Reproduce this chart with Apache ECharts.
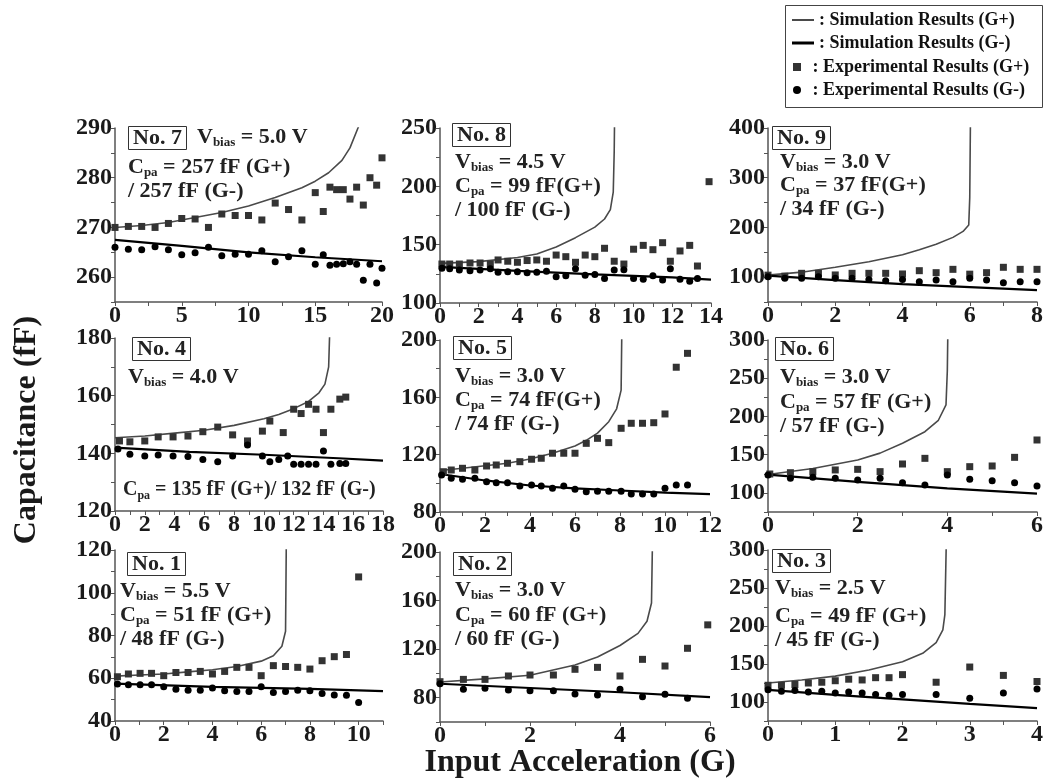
<!DOCTYPE html>
<html>
<head>
<meta charset="utf-8">
<script src="https://cdn.jsdelivr.net/npm/echarts@6/dist/echarts.min.js"></script>
<style>
  html, body { margin: 0; padding: 0; background: #fff; }
  #chart { width: 1047px; height: 784px; }
</style>
</head>
<body>
<div id="chart"></div>
<script>
// ---- data: [input acceleration (G), capacitance (fF)] ----
// No. 7
var simPlus7 = [[0,270],[2,270.4],[4,271],[6,272],[8,273],[10,274.3],[12,276],[14,278],[15,279.3],[16,281],[17,283.5],[17.6,286],[18.2,290],[18.5,292]]
var simMinus7 = [[0,267.5],[5,266.3],[10,265],[15,264],[20,263.2]]
var expPlus7 = [[0,270],[1,270.2],[2,270.2],[3,270],[4,270.8],[5,271.8],[6,271.7],[7,270],[8,272.7],[9,272.4],[10,272.4],[11,271.5],[12,274.9],[13,273.6],[14,271.5],[15,277],[15.6,273.2],[16.1,278.1],[16.6,277.6],[17.1,277.6],[17.6,275.7],[18.1,278.1],[18.6,274.5],[19.1,280],[19.6,278.5],[20,284]]
var expMinus7 = [[0,266],[1,265.6],[2,265.5],[3,266.1],[4,265.5],[5,264.5],[6,264.9],[7,266],[8,264.3],[9,264.6],[10,264.6],[11,265.3],[12,263.1],[13,264.1],[14,265.3],[15,262.6],[15.6,264.5],[16.1,262.4],[16.6,262.6],[17.1,262.7],[17.6,263.1],[18.1,262.6],[18.6,259.4],[19.1,262.6],[19.6,258.8],[20,261.8]]
// No. 8
var simPlus8 = [[0,134],[2,135.5],[4,139],[5,142],[6,148],[7,156],[8,165],[8.5,172],[8.8,180],[8.95,195],[9,230],[9.02,260]]
var simMinus8 = [[0,131],[4,127.5],[8,124.5],[12,122],[14,120]]
var expPlus8 = [[0.1,133.4],[0.5,133.4],[1,133.4],[1.55,134.3],[2.07,134.3],[2.6,133.4],[3,136.9],[3.5,135.8],[4,134.9],[4.5,136.4],[5,136.9],[5.5,135.8],[6,141.1],[6.5,139.7],[7,134.9],[7.5,141.1],[8,139.7],[8.5,146.9],[9,135.8],[9.5,133.4],[10,146.1],[10.5,149.4],[11,145.7],[11.5,151.7],[11.9,135.8],[12.4,144.6],[12.9,149.4],[13.3,131.7],[13.9,204]]
var expMinus8 = [[0.1,129.7],[0.5,129.4],[1,128.3],[1.55,127.7],[2.07,128.3],[2.6,129.4],[3,126.3],[3.5,126.8],[4,126.8],[4.5,126],[5,126.3],[5.5,127.3],[6,122.6],[6.5,123.3],[7,129.4],[7.5,123.8],[8,124.4],[8.5,121.1],[9,128.3],[9.5,128.5],[10,121.1],[10.5,120.3],[11,123.3],[11.5,119.7],[11.9,129.4],[12.4,120.3],[12.9,118.6],[13.3,121]]
// No. 9
var simPlus9 = [[0,104],[1,110],[2,120],[3,131],[4,145],[4.5,155],[5,166],[5.5,180],[5.8,192],[5.97,205],[6,260],[6.02,410]]
var simMinus9 = [[0,103],[2,94],[4,86],[6,80],[8,74]]
var expPlus9 = [[0,104],[0.5,102],[1,107.7],[1.5,107.7],[2,104.4],[2.5,107.7],[3,107.7],[3.5,107.7],[4,106.4],[4.5,113],[5,109],[5.5,115.7],[6,106],[6.5,109],[7,119.8],[7.5,115.7],[8,115.7]]
var expMinus9 = [[0,101],[0.5,97.6],[1,97.6],[1.5,101],[2,97.6],[2.5,97.6],[3,95.5],[3.5,92.9],[4,95.5],[4.5,90.8],[5,94.2],[5.5,90.8],[6,97.6],[6.5,94.2],[7,88.8],[7.5,90.8],[8,90.8]]
// No. 4
var simPlus4 = [[0,145.4],[2,146],[4,147],[6,148],[8,149.7],[10,152],[11,153.5],[12,155.5],[13,158],[13.7,161],[14.1,164],[14.35,170],[14.42,182]]
var simMinus4 = [[0,142],[5,140.5],[10,139.5],[15,138.3],[18,137.5]]
var expPlus4 = [[0.3,144.3],[1,144],[2,144.3],[2.9,145.7],[3.9,145.7],[4.9,146],[5.9,147.5],[6.9,149.1],[7.9,146.4],[8.9,144.3],[9.9,147.7],[10.4,151.2],[11.3,147.2],[12,155.3],[12.5,153.8],[13,157],[13.5,155.3],[14,147.2],[14.5,155.3],[15.1,158.8],[15.5,159.5]]
var expMinus4 = [[0.2,141.5],[1,139.7],[2,139.1],[2.9,139.4],[3.9,139.1],[4.9,138.9],[5.9,137.9],[6.9,137.1],[7.9,139.1],[8.9,142.9],[9.9,139.1],[10.4,137.1],[11,137.9],[11.6,139.1],[12,136.2],[12.5,136.2],[13,136.2],[13.5,136.2],[14,140.8],[14.5,136.2],[15.1,136.5],[15.5,136.5]]
// No. 5
var simPlus5 = [[0,109],[1,110.5],[2,112.3],[3,114],[4,117],[5,121],[6,126],[6.5,130],[7,135],[7.5,143],[7.85,152],[8.05,165],[8.08,205]]
var simMinus5 = [[0,106.5],[2,102],[4,98.5],[6,96.5],[8,95],[10,93.5],[12,92.5]]
var expPlus5 = [[0.15,108.1],[0.5,109.3],[1,110.5],[1.55,109.3],[2.07,112.1],[2.5,112.8],[3,114],[3.55,115.1],[4.07,116.8],[4.5,117.5],[5,121],[5.5,121],[6,121],[6.5,127.9],[7,131.4],[7.5,128.4],[8.05,138.4],[8.5,141.9],[9,141.9],[9.5,142.3],[10,148.4],[10.5,181],[11,190.7]]
var expMinus5 = [[0.07,105.8],[0.5,103.5],[1,102.8],[1.55,103.5],[2.07,101.1],[2.5,100.4],[3,100.4],[3.55,98.1],[4.07,98.8],[4.5,98.1],[5,96.5],[5.5,98.1],[6,95.8],[6.5,94.2],[7,94.4],[7.5,94.4],[8.05,94.4],[8.5,92.6],[9,92.6],[9.5,92.6],[10,96.5],[10.5,98.8],[11,98.8]]
// No. 6
var simPlus6 = [[0,124],[1,132],[2,143],[2.5,152],[3,165],[3.5,180],[3.8,195],[3.97,215],[4,260],[4.01,305]]
var simMinus6 = [[0,124],[2,114.5],[4,106],[6,99]]
var expPlus6 = [[0.04,124.7],[0.5,126.4],[1,127.8],[1.5,130],[2,130.8],[2.5,127.8],[3,137.8],[3.5,145.2],[4,127.8],[4.5,134.3],[5,135.2],[5.5,146.5],[6,169.2]]
var expMinus6 = [[0,123.4],[0.5,119.1],[1,120.4],[1.5,119.1],[2,116.9],[2.5,119.1],[3,113.4],[3.5,110.3],[4,123.4],[4.5,117.8],[5,116],[5.5,113.4],[6,109]]
// No. 1
var simPlus1 = [[0,61],[1,61.5],[2,62],[3,63],[4,64],[5,65.5],[6,68],[6.5,70.5],[6.85,75],[7,82],[7.03,122]]
var simMinus1 = [[0,57.5],[4,56],[8,55],[11,54]]
var expPlus1 = [[0.1,60.7],[0.55,62],[1.03,62.3],[1.5,62.3],[2,61.2],[2.5,62.7],[3,62.7],[3.5,63.2],[4,62],[4.5,63.2],[5,65.1],[5.5,65.1],[6,61.2],[6.5,65.9],[7,65.5],[7.5,65.1],[8,64.3],[8.5,68.2],[9,70.1],[9.5,71.1],[10,107.4]]
var expMinus1 = [[0.1,57.3],[0.55,57],[1.03,57],[1.5,57],[2,56],[2.5,54.9],[3,54.4],[3.5,54.4],[4,55.4],[4.5,54.1],[5,53.8],[5.5,53.8],[6,56],[6.5,53.3],[7,53.8],[7.5,54.4],[8,54.1],[8.5,52.9],[9,52.2],[9.5,52],[10,48.6]]
// No. 2
var simPlus2 = [[0,93],[1,95.5],[2,98.5],[3,107],[3.5,113.5],[4,123],[4.4,133],[4.6,143],[4.7,158],[4.72,205]]
var simMinus2 = [[0,91.5],[2,88],[4,84.5],[6,80.5]]
var expPlus2 = [[0,93.2],[0.52,95.1],[1,95.1],[1.52,97.9],[2,98.7],[2.52,98.7],[3,103.4],[3.5,105],[4,97.9],[4.5,111.6],[5,106.1],[5.5,120.7],[5.95,140]]
var expMinus2 = [[0,91.5],[0.52,86.9],[1,87.7],[1.52,86.4],[2,85.8],[2.52,85.8],[3,83.1],[3.5,82.2],[4,86.9],[4.5,80.8],[5,82.8],[5.5,79.5]]
// No. 3
var simPlus3 = [[0,125],[0.5,129],[1,134],[1.5,142],[2,153],[2.3,164],[2.5,178],[2.6,195],[2.63,215],[2.65,305]]
var simMinus3 = [[0,116],[1,109.5],[2,103.5],[3,97.5],[4,92]]
var expPlus3 = [[0,122],[0.2,122],[0.4,123],[0.6,125],[0.8,126],[1,128],[1.2,130],[1.4,129],[1.6,132],[1.8,132],[2,136],[2.5,126],[3,146],[3.5,135],[4,127]]
var expMinus3 = [[0,116],[0.2,114],[0.4,115],[0.6,113],[0.8,114],[1,112],[1.2,113],[1.4,112],[1.6,110],[1.8,109],[2,110],[2.5,110],[3,105],[3.5,112],[4,117]]

var FONT = '"Liberation Serif", "Times New Roman", serif'
var NAMES = ['Simulation Results (G+)', 'Simulation Results (G-)', 'Experimental Results (G+)', 'Experimental Results (G-)']
var SIM_PLUS_COLOR = '#4a4a4a'
var SIM_MINUS_COLOR = '#000'

// axis: [min, max, tick interval, label step]
var panels = [
  { no: 7, grid: [115, 128, 267, 174], x: [0, 20, 2.5, 5], y: [255, 290, 5, 10], data: [simPlus7, simMinus7, expPlus7, expMinus7],
    vb: '5.0', cpa: ['257 fF (G+)', '/ 257 fF (G-)'], boxAt: [128, 127], vbAt: [197, 125], cpAt: [128, 155] },
  { no: 8, grid: [440, 128, 271, 175], x: [0, 14, 1, 2], y: [100, 250, 25, 50], data: [simPlus8, simMinus8, expPlus8, expMinus8],
    vb: '4.5', cpa: ['99 fF(G+)', '/ 100 fF (G-)'], boxAt: [452, 124], vbAt: [455, 150], cpAt: [455, 174] },
  { no: 9, grid: [768, 128, 269, 174], x: [0, 8, 1, 2], y: [50, 400, 50, 100], data: [simPlus9, simMinus9, expPlus9, expMinus9],
    vb: '3.0', cpa: ['37 fF(G+)', '/ 34 fF (G-)'], boxAt: [772, 127], vbAt: [780, 150], cpAt: [780, 173] },
  { no: 4, grid: [115, 338, 268, 173], x: [0, 18, 1, 2], y: [120, 180, 10, 20], data: [simPlus4, simMinus4, expPlus4, expMinus4],
    vb: '4.0', cpa: ['135 fF (G+)/ 132 fF (G-)'], boxAt: [132, 338], vbAt: [128, 365], cpAt: [123, 478], small: true },
  { no: 5, grid: [440, 340, 270, 172], x: [0, 12, 1, 2], y: [80, 200, 20, 40], data: [simPlus5, simMinus5, expPlus5, expMinus5],
    vb: '3.0', cpa: ['74 fF(G+)', '/ 74 fF (G-)'], boxAt: [453, 337], vbAt: [455, 364], cpAt: [455, 388] },
  { no: 6, grid: [768, 340, 269, 172], x: [0, 6, 1, 2], y: [75, 300, 25, 50], data: [simPlus6, simMinus6, expPlus6, expMinus6],
    vb: '3.0', cpa: ['57 fF (G+)', '/ 57 fF (G-)'], boxAt: [775, 338], vbAt: [780, 365], cpAt: [780, 390] },
  { no: 1, grid: [115, 550, 268, 171], x: [0, 11, 1, 2], y: [40, 120, 10, 20], data: [simPlus1, simMinus1, expPlus1, expMinus1],
    vb: '5.5', cpa: ['51 fF (G+)', '/ 48 fF (G-)'], boxAt: [127, 553], vbAt: [120, 579], cpAt: [120, 603] },
  { no: 2, grid: [440, 552, 270, 170], x: [0, 6, 1, 2], y: [60, 200, 20, 40], data: [simPlus2, simMinus2, expPlus2, expMinus2],
    vb: '3.0', cpa: ['60 fF (G+)', '/ 60 fF (G-)'], boxAt: [453, 553], vbAt: [455, 578], cpAt: [455, 603] },
  { no: 3, grid: [768, 550, 269, 171], x: [0, 4, 0.5, 1], y: [75, 300, 25, 50], data: [simPlus3, simMinus3, expPlus3, expMinus3],
    vb: '2.5', cpa: ['49 fF (G+)', '/ 45 fF (G-)'], boxAt: [772, 550], vbAt: [775, 576], cpAt: [775, 604] }
]

function stepLabel (step) {
  return function (v) {
    var r = v / step
    return Math.abs(r - Math.round(r)) < 1e-6 ? String(v) : ''
  }
}

function axisBase (a, isX) {
  return {
    type: 'value',
    min: a[0],
    max: a[1],
    interval: a[2],
    splitLine: { show: false },
    axisLine: { onZero: false, lineStyle: { color: '#555', width: 1.5 } },
    axisTick: { show: true, length: 4, lineStyle: { color: '#555', width: 1 } },
    axisLabel: {
      fontFamily: FONT,
      fontWeight: 'bold',
      fontSize: 24,
      color: '#1a1a1a',
      margin: isX ? 2 : 3,
      formatter: stepLabel(a[3])
    }
  }
}

function richFor (size) {
  return {
    n: { fontFamily: FONT, fontWeight: 'bold', fontSize: size, color: '#222', lineHeight: 24 },
    s: { fontFamily: FONT, fontWeight: 'bold', fontSize: Math.round(size * 0.6), color: '#222', lineHeight: 10, verticalAlign: 'bottom' }
  }
}

var grids = []
var xAxes = []
var yAxes = []
var series = []
var titles = []

panels.forEach(function (p, i) {
  grids.push({ left: p.grid[0], top: p.grid[1], width: p.grid[2], height: p.grid[3] })
  xAxes.push(Object.assign({ gridIndex: i }, axisBase(p.x, true)))
  yAxes.push(Object.assign({ gridIndex: i }, axisBase(p.y, false)))

  series.push({
    name: NAMES[0], type: 'line', xAxisIndex: i, yAxisIndex: i, data: p.data[0],
    symbol: 'none', clip: true, itemStyle: { color: SIM_PLUS_COLOR },
    lineStyle: { color: SIM_PLUS_COLOR, width: 1.6 }, z: 2
  })
  series.push({
    name: NAMES[1], type: 'line', xAxisIndex: i, yAxisIndex: i, data: p.data[1],
    symbol: 'none', clip: true, itemStyle: { color: SIM_MINUS_COLOR },
    lineStyle: { color: SIM_MINUS_COLOR, width: 2.2 }, z: 2
  })
  series.push({
    name: NAMES[2], type: 'scatter', xAxisIndex: i, yAxisIndex: i, data: p.data[2],
    symbol: 'rect', symbolSize: 7, itemStyle: { color: '#333', opacity: 1 }, z: 3
  })
  series.push({
    name: NAMES[3], type: 'scatter', xAxisIndex: i, yAxisIndex: i, data: p.data[3],
    symbol: 'circle', symbolSize: 7, itemStyle: { color: '#000', opacity: 1 }, z: 4
  })

  titles.push({
    left: p.boxAt[0], top: p.boxAt[1], text: 'No. ' + p.no,
    borderColor: '#333', borderWidth: 1, padding: [1, 5, 0, 5],
    textStyle: { fontFamily: FONT, fontWeight: 'bold', fontSize: 22, color: '#222', lineHeight: 21 }
  })
  titles.push({
    left: p.vbAt[0], top: p.vbAt[1], padding: 0,
    text: '{n|V}{s|bias}{n| = ' + p.vb + ' V}',
    textStyle: { rich: richFor(22) }
  })
  var lines = p.cpa.map(function (t, k) {
    return k === 0 ? '{n|C}{s|pa}{n| = ' + t + '}' : '{n|' + t + '}'
  })
  titles.push({
    left: p.cpAt[0], top: p.cpAt[1], padding: 0,
    text: lines.join('\n'),
    textStyle: { rich: richFor(p.small ? 20 : 22) }
  })
})

var legendText = { fontFamily: FONT, fontWeight: 'bold', fontSize: 18, color: '#111', lineHeight: 18 }

var option = {
  animation: false,
  backgroundColor: '#fff',
  title: titles,
  legend: [
    {
      orient: 'vertical', left: 787, top: 6, itemWidth: 22, itemHeight: 6, itemGap: 5,
      symbolKeepAspect: true,
      data: [
        { name: NAMES[0], icon: 'path://M0,0L22,0L22,2L0,2Z', itemStyle: { color: SIM_PLUS_COLOR } },
        { name: NAMES[1], icon: 'path://M0,0L22,0L22,3L0,3Z', itemStyle: { color: SIM_MINUS_COLOR } }
      ],
      formatter: function (n) { return ': ' + n },
      textStyle: legendText
    },
    {
      orient: 'vertical', left: 788, top: 53, itemWidth: 21, itemHeight: 8, itemGap: 5,
      symbolKeepAspect: true,
      data: [
        { name: NAMES[2], icon: 'path://M0,0L10,0L10,10L0,10Z', itemStyle: { color: '#333' } },
        { name: NAMES[3], icon: 'path://M5,0A5,5,0,1,1,5,10A5,5,0,1,1,5,0Z', itemStyle: { color: '#000' } }
      ],
      formatter: function (n) { return ': ' + n },
      textStyle: legendText
    }
  ],
  graphic: [
    {
      type: 'rect', left: 783, top: 3,
      shape: { width: 257, height: 102 },
      style: { fill: 'none', stroke: '#444', lineWidth: 1 }
    },
    {
      type: 'text', x: 27, y: 430, rotation: Math.PI / 2,
      style: {
        text: 'Capacitance (fF)', align: 'center', verticalAlign: 'middle',
        fontFamily: FONT, fontWeight: 'bold', fontSize: 32, fill: '#1a1a1a'
      }
    },
    {
      type: 'text', x: 580, y: 763,
      style: {
        text: 'Input Acceleration (G)', align: 'center', verticalAlign: 'middle',
        fontFamily: FONT, fontWeight: 'bold', fontSize: 32, fill: '#1a1a1a'
      }
    }
  ],
  grid: grids,
  xAxis: xAxes,
  yAxis: yAxes,
  series: series
}

var chart = echarts.init(document.getElementById('chart'))
chart.setOption(option)
</script>
</body>
</html>
